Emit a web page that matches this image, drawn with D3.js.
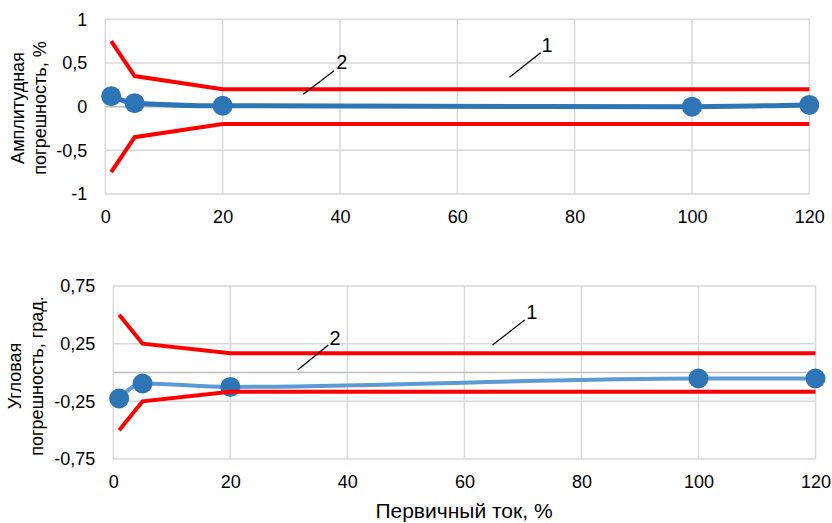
<!DOCTYPE html>
<html><head><meta charset="utf-8">
<script src="https://cdn.jsdelivr.net/npm/d3@7"></script>
<style>
body{margin:0;background:#fff}
svg text{font-family:"Liberation Sans",Arial,sans-serif;fill:#000}
</style>
</head><body>
<svg id="c" width="832" height="523"></svg>
<script>
// ---- data ----
const current = [1, 5, 20, 100, 120];
const ampError = [0.12, 0.04, 0.01, 0.0, 0.02];
const phaseError = [-0.225, -0.095, -0.125, -0.052, -0.052];
const limitX = [1, 5, 20, 120];
const ampLimit = [0.75, 0.35, 0.2, 0.2];
const phaseLimit = [0.5, 0.25, 0.1667, 0.1667];
const xTicks = [0, 20, 40, 60, 80, 100, 120];
const ampTicks = [-1, -0.5, 0, 0.5, 1];
const phaseTicks = [-0.75, -0.25, 0.25, 0.75];
const ampTitle = ["Амплитудная", "погрешность, %"];
const phaseTitle = ["Угловая", "погрешность,  град."];
const xTitle = "Первичный ток, %";
// callouts: [label, leader x0, y0, x1, y1, text x, text y] in data units
const ampCallouts = [["1", 68.9, 0.337, 74.2, 0.618, 75.3, 0.706], ["2", 33.75, 0.142, 39.0, 0.412, 40.3, 0.515]];
const phaseCallouts = [["1", 64.8, 0.238, 70.3, 0.455, 71.5, 0.527], ["2", 31.5, 0.022, 36.75, 0.238, 37.9, 0.305]];

const svg = d3.select("#c");
const fmt = v => String(v).replace(".", ",");
const FF = '"Liberation Sans",Arial,sans-serif';

function panel(o) {
  const x = d3.scaleLinear().domain([0, 120]).range([o.x0, o.x1]);
  const y = d3.scaleLinear().domain(o.yDomain).range([o.yb, o.yt]);
  const g = svg.append("g");
  // grid
  g.selectAll(".vg").data(xTicks).join("line")
    .attr("x1", d => x(d)).attr("x2", d => x(d)).attr("y1", o.yt).attr("y2", o.yb)
    .attr("stroke", "#d9d9d9").attr("stroke-width", 1.5);
  g.selectAll(".hg").data(o.yTicks).join("line")
    .attr("x1", o.x0).attr("x2", o.x1).attr("y1", d => y(d)).attr("y2", d => y(d))
    .attr("stroke", "#d9d9d9").attr("stroke-width", 1.5);
  // horizontal axis line at 0
  g.append("line").attr("x1", o.x0).attr("x2", o.x1).attr("y1", y(0)).attr("y2", y(0))
    .attr("stroke", "#bfbfbf").attr("stroke-width", 1.5);
  // axes labels
  const xa = g.append("g").attr("transform", `translate(0,${o.yb})`)
    .call(d3.axisBottom(x).tickValues(xTicks).tickSize(0).tickPadding(o.xPad).tickFormat(d => d));
  xa.select(".domain").remove();
  xa.selectAll("text").style("font-size", "18px").style("font-family", FF).attr("fill", "#000");
  const ya = g.append("g").attr("transform", `translate(${o.x0},0)`)
    .call(d3.axisLeft(y).tickValues(o.yLabels).tickSize(0).tickPadding(o.yPad).tickFormat(fmt));
  ya.select(".domain").remove();
  ya.selectAll("text").style("font-size", "18px").style("font-family", FF).attr("fill", "#000");
  // series
  const pts = current.map((c, i) => [c, o.err[i]]);
  g.append("path").datum(pts)
    .attr("d", d3.line().x(d => x(d[0])).y(d => y(d[1])).curve(d3.curveMonotoneX))
    .attr("fill", "none").attr("stroke", o.lineColor).attr("stroke-width", o.lineW);
  g.selectAll(".m").data(pts).join("circle")
    .attr("cx", d => x(d[0])).attr("cy", d => y(d[1])).attr("r", 10).attr("fill", "#2e75b6");
  // limits
  const up = limitX.map((c, i) => [c, o.lim[i]]);
  const lo = limitX.map((c, i) => [c, -o.lim[i]]);
  const ln = d3.line().x(d => x(d[0])).y(d => y(d[1]));
  [up, lo].forEach(p => g.append("path").attr("d", ln(p)).attr("fill", "none")
    .attr("stroke", "#ff0000").attr("stroke-width", 4));
  // callouts
  o.callouts.forEach(c => {
    g.append("line").attr("x1", x(c[1])).attr("y1", y(c[2])).attr("x2", x(c[3])).attr("y2", y(c[4]))
      .attr("stroke", "#000").attr("stroke-width", 1.2);
    g.append("text").attr("x", x(c[5])).attr("y", y(c[6])).attr("dy", "0.36em")
      .attr("text-anchor", "middle").style("font-size", "20px").text(c[0]);
  });
  // y title
  const t = g.append("text").attr("transform", `translate(${o.titleX},${o.titleY}) rotate(-90)`)
    .attr("text-anchor", "middle").style("font-size", "18px");
  o.title.forEach((s, i) => t.append("tspan").attr("x", 0).attr("dy", i ? "1.2em" : 0).text(s));
}

panel({x0: 105.3, x1: 809.3, yt: 19.3, yb: 194, yDomain: [-1, 1], yTicks: ampTicks, yLabels: ampTicks,
  err: ampError, lim: ampLimit, lineColor: "#2e75b6", lineW: 5, callouts: ampCallouts,
  xPad: 16, yPad: 18, title: ampTitle, titleX: 24, titleY: 108});
panel({x0: 113.3, x1: 815.5, yt: 286, yb: 459, yDomain: [-0.75, 0.75], yTicks: phaseTicks, yLabels: phaseTicks,
  err: phaseError, lim: phaseLimit, lineColor: "#5b9bd5", lineW: 4, callouts: phaseCallouts,
  xPad: 16, yPad: 18, title: phaseTitle, titleX: 21, titleY: 376});

svg.append("text").attr("x", 464).attr("y", 518).attr("text-anchor", "middle")
  .style("font-size", "21px").text(xTitle);
</script>
</body></html>
